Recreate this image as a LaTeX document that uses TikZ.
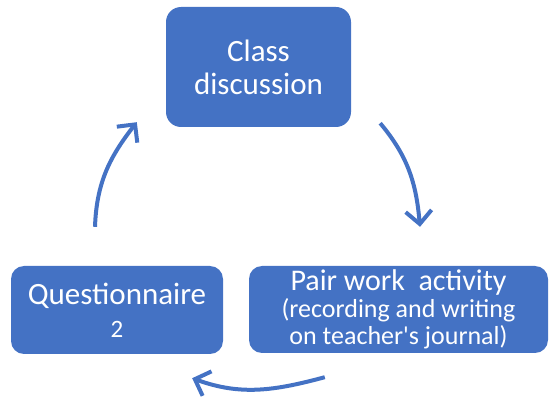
\documentclass[tikz,border=0pt]{standalone}
\usepackage{fontspec}
\setmainfont{Carlito}
\usetikzlibrary{arrows.meta}
\definecolor{boxblue}{RGB}{68,114,196}
\tikzset{
        base/.style={fill=boxblue, text=white, align=center, rounded corners=13pt, inner sep=0pt},
        stage/.style={base, font=\fontsize{31}{33}\selectfont},
        myarrow/.style={-{Straight Barb[length=13pt, width=26pt]}, draw=boxblue, line width=4pt},
}
\begin{document}
\begin{tikzpicture}[x=1pt, y=1pt]
    \useasboundingbox (0,0) rectangle (550,397);
    \node[stage, minimum width=185pt, minimum height=120pt, rounded corners=15pt] (disc) at (258.5,330) {Class\\discussion};
    \node[stage, minimum width=212pt, minimum height=88pt] (quest) at (117,87) {Questionnaire\\{\fontsize{25}{27}\selectfont 2}};
    \node[base, minimum width=299pt, minimum height=87pt, font=\fontsize{26}{27}\selectfont] (pair) at (398.5,87.5)
        {{\fontsize{30}{31}\selectfont Pair work\ \ activity}\\(recording and writing\\on teacher\textquotesingle s journal)};

    % arrow ends, kept off the boxes
    \coordinate (q1) at ([shift={(-22,39)}]quest.north);
    \coordinate (d1) at ([shift={(-29,5)}]disc.south west);
    \coordinate (d2) at ([shift={(29,4)}]disc.south east);
    \coordinate (p1) at ([shift={(21.5,39)}]pair.north);
    \coordinate (p2) at ([shift={(76,-24)}]pair.south west);
    \coordinate (q2) at ([shift={(-31,-24)}]quest.south east);

    \draw[myarrow] (q1) to[out=88, in=232] (d1);
    \draw[myarrow] (d2) to[out=-50, in=95] (p1);
    \draw[myarrow] (p2) to[out=195, in=-20] (q2);
\end{tikzpicture}
\end{document}
